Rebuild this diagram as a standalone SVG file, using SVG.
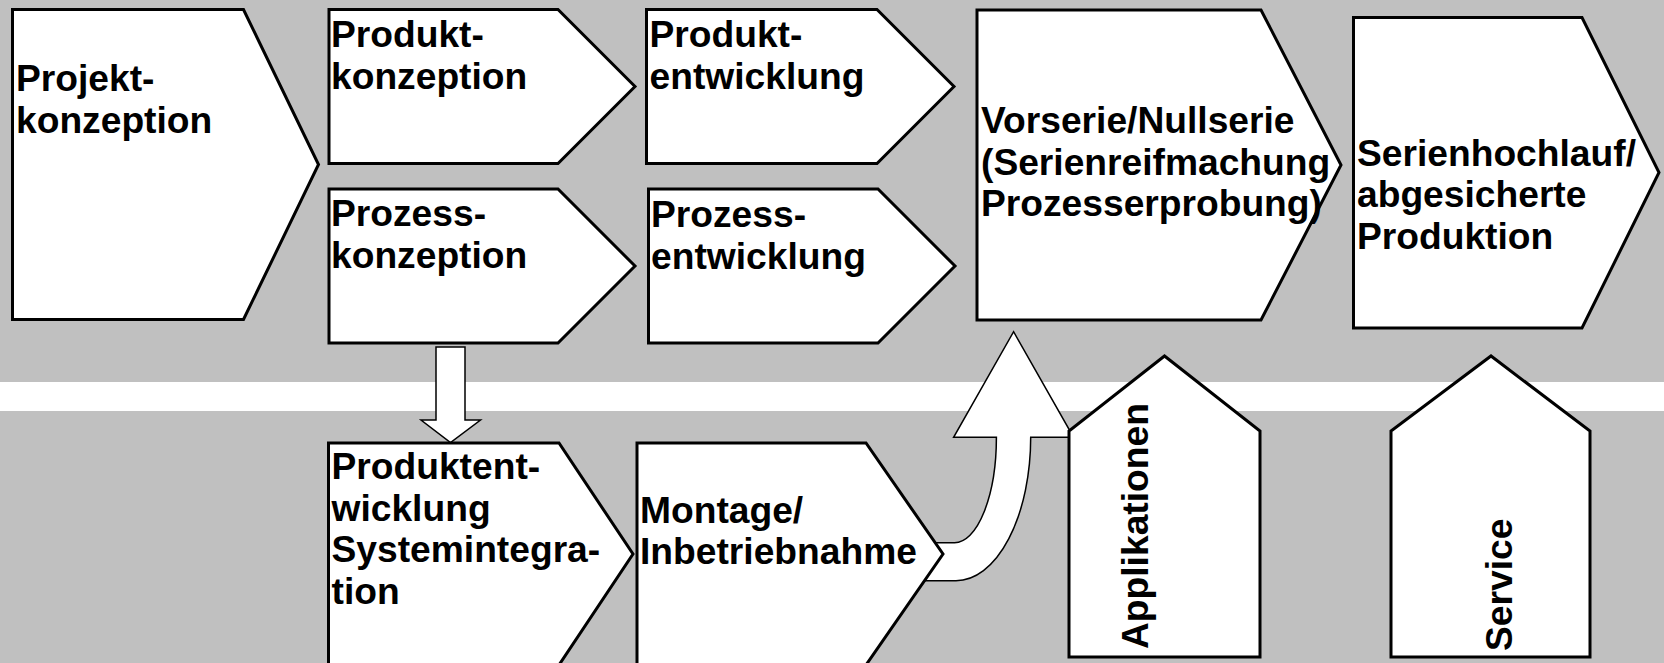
<svg xmlns="http://www.w3.org/2000/svg" width="1664" height="663" viewBox="0 0 1664 663">
<style>
.bg{fill:#c0c0c0}
.node{fill:#fff;stroke:#000;stroke-width:3;stroke-linejoin:miter}
.arrow{fill:#fff;stroke:#000;stroke-width:1.5;stroke-linejoin:miter}
.t{font-family:"Liberation Sans",Arial,sans-serif;font-weight:bold;font-size:37.2px;fill:#000}
</style>
<rect class="bg" x="0" y="0" width="1664" height="382"/>
<rect x="0" y="382" width="1664" height="29" fill="#fff"/>
<rect class="bg" x="0" y="411" width="1664" height="252"/>

<g id="connectors">
  <path class="arrow" d="M436,347 H465 V420 H480.5 L450.5,442.5 L421,420 H436 Z"/>
  <path class="arrow" d="M915,542.7 H954.6 A41.8 105.4 0 0 0 996.4 437.3 H953.6 L1013.6 331.7 L1073.6 437.3 H1030.7 A74.7 143.4 0 0 1 956 580.7 H915 Z"/>
</g>

<g id="projektkonzeption">
  <polygon class="node" points="12.5,9.5 243.5,9.5 318.5,164.5 243.5,319.5 12.5,319.5"/>
  <text class="t" x="16" y="91">Projekt-</text>
  <text class="t" x="16" y="132.5">konzeption</text>
</g>
<g id="produktkonzeption">
  <polygon class="node" points="329,9.5 558,9.5 635,86.5 558,163.5 329,163.5"/>
  <text class="t" x="331" y="47">Produkt-</text>
  <text class="t" x="331" y="88.5">konzeption</text>
</g>
<g id="prozesskonzeption">
  <polygon class="node" points="329,189 558,189 635,266 558,343 329,343"/>
  <text class="t" x="331" y="226">Prozess-</text>
  <text class="t" x="331" y="267.5">konzeption</text>
</g>
<g id="produktentwicklung">
  <polygon class="node" points="646.5,9.5 877,9.5 954,86.5 877,163.5 646.5,163.5"/>
  <text class="t" x="649.5" y="47">Produkt-</text>
  <text class="t" x="649.5" y="88.5">entwicklung</text>
</g>
<g id="prozessentwicklung">
  <polygon class="node" points="648.5,189 878,189 955,266 878,343 648.5,343"/>
  <text class="t" x="651" y="227">Prozess-</text>
  <text class="t" x="651" y="268.5">entwicklung</text>
</g>
<g id="vorserie">
  <polygon class="node" points="977,10 1261,10 1341,165 1261,320 977,320"/>
  <text class="t" x="981" y="133">Vorserie/Nullserie</text>
  <text class="t" x="981" y="175">(Serienreifmachung</text>
  <text class="t" x="981" y="216">Prozesserprobung)</text>
</g>
<g id="serienhochlauf">
  <polygon class="node" points="1353.5,17.5 1582,17.5 1659,172.5 1582,328 1353.5,328"/>
  <text class="t" x="1357" y="165.5">Serienhochlauf/</text>
  <text class="t" x="1357" y="207">abgesicherte</text>
  <text class="t" x="1357" y="248.5">Produktion</text>
</g>
<g id="produktentwicklung-systemintegration">
  <polygon class="node" points="328.5,443 559,443 633,554 559,665 328.5,665"/>
  <text class="t" x="331.5" y="479">Produktent-</text>
  <text class="t" x="331.5" y="520.5">wicklung</text>
  <text class="t" x="331.5" y="562">Systemintegra-</text>
  <text class="t" x="331.5" y="603.5">tion</text>
</g>
<g id="montage">
  <polygon class="node" points="637,443 866,443 943,554 866,665 637,665"/>
  <text class="t" x="640" y="522.5">Montage/</text>
  <text class="t" x="640" y="564">Inbetriebnahme</text>
</g>
<g id="applikationen">
  <polygon class="node" points="1069,657 1069,431 1164.5,356 1260,431 1260,657"/>
  <text class="t" transform="translate(1148,649) rotate(-90)">Applikationen</text>
</g>
<g id="service">
  <polygon class="node" points="1391,657 1391,431 1491,356 1590,431 1590,657"/>
  <text class="t" transform="translate(1512,651) rotate(-90)">Service</text>
</g>
</svg>
